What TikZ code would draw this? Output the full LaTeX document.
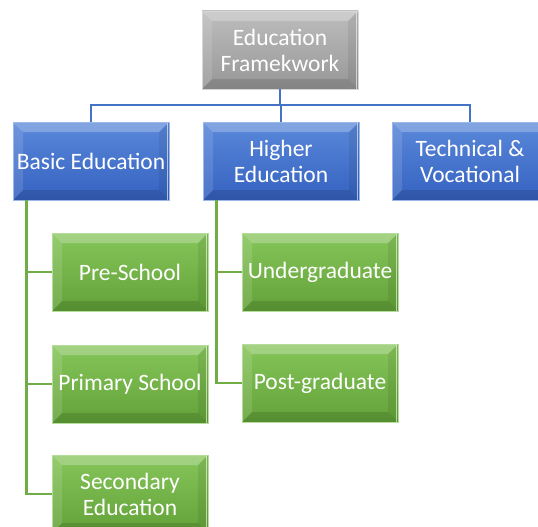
\documentclass[tikz,border=0pt]{standalone}
\usepackage{fontspec}
\setmainfont{Carlito}
\definecolor{bluelink}{HTML}{4472C4}
\definecolor{greenlink}{HTML}{70AD47}
\definecolor{graytop}{HTML}{BDBDBD}
\definecolor{graybot}{HTML}{979797}
\definecolor{bluetop}{HTML}{5A88DA}
\definecolor{bluebot}{HTML}{3562C0}
\definecolor{greentop}{HTML}{86C55A}
\definecolor{greenbot}{HTML}{62A238}
\tikzset{
  % bevelled tile: #1 = top colour, #2 = bottom colour
  tile/.style n args={2}{
    minimum width=156pt, minimum height=78pt, inner sep=0pt,
    text=white, align=center,
    font=\fontsize{23.5}{26}\selectfont,
    draw=#1!60!white, line width=0.6pt,
    path picture={
      \coordinate (nw) at (path picture bounding box.north west);
      \coordinate (ne) at (path picture bounding box.north east);
      \coordinate (sw) at (path picture bounding box.south west);
      \coordinate (se) at (path picture bounding box.south east);
      \fill[top color=#1, bottom color=#2] (sw) rectangle (ne);
      % top facet
      \fill[white, opacity=0.25] (nw) -- (ne) -- ([shift={(-10pt,-10pt)}]ne) -- ([shift={(10pt,-10pt)}]nw) -- cycle;
      % left facet
      \fill[white, opacity=0.12] (nw) -- ([shift={(10pt,-10pt)}]nw) -- ([shift={(10pt,10pt)}]sw) -- (sw) -- cycle;
      % right facet
      \fill[black, opacity=0.07] (ne) -- (se) -- ([shift={(-10pt,10pt)}]se) -- ([shift={(-10pt,-10pt)}]ne) -- cycle;
      % bottom facet
      \fill[black, opacity=0.12] (sw) -- ([shift={(10pt,10pt)}]sw) -- ([shift={(-10pt,10pt)}]se) -- (se) -- cycle;
      % light rim on the right edge
      \draw[white, opacity=0.6, line width=1pt] ([xshift=-1.5pt]ne) -- ([xshift=-1.5pt]se);
    }
  },
  graytile/.style={tile={graytop}{graybot}},
  bluetile/.style={tile={bluetop}{bluebot}},
  greentile/.style={tile={greentop}{greenbot}},
  bluewire/.style={draw=bluelink, line width=2.8pt},
  greenwire/.style={draw=greenlink, line width=2.8pt}
}
\begin{document}
\begin{tikzpicture}[x=1pt, y=-1pt]
  \clip (0,0) rectangle (538,527);
  \fill[white] (0,0) rectangle (538,527);

  \node[graytile] (top) at (280,50) {Education\\Framekwork};
  \node[bluetile] (basic) at (91,161) {Basic Education};
  \node[bluetile] (higher) at (281,161) {Higher\\Education};
  \node[bluetile] (tech) at (470,161) {Technical \&\\Vocational};

  \node[greentile] (pre) at (130,272) {Pre-School};
  \node[greentile] (primary) at (130,384) {Primary School};
  \node[greentile] (sec) at (130,494) {Secondary\\Education};
  \node[greentile] (ug) at (320,272) {Undergraduate};
  \node[greentile] (pg) at (320,383) {Post-graduate};

  % junction points of the connector trees
  \coordinate (bus) at (280,105);
  \coordinate (bstem) at ([xshift=14pt]basic.south west);
  \coordinate (hstem) at ([xshift=14pt]higher.south west);

  % org-chart connectors
  \draw[bluewire] (top.south) -- (bus);
  \draw[bluewire] (bus) -| (basic.north);
  \draw[bluewire] (bus) -| (higher.north);
  \draw[bluewire] (bus) -| (tech.north);
  \draw[greenwire] (bstem) |- (pre.west);
  \draw[greenwire] (bstem) |- (primary.west);
  \draw[greenwire] (bstem) |- (sec.west);
  \draw[greenwire] (hstem) |- (ug.west);
  \draw[greenwire] (hstem) |- (pg.west);
\end{tikzpicture}
\end{document}
